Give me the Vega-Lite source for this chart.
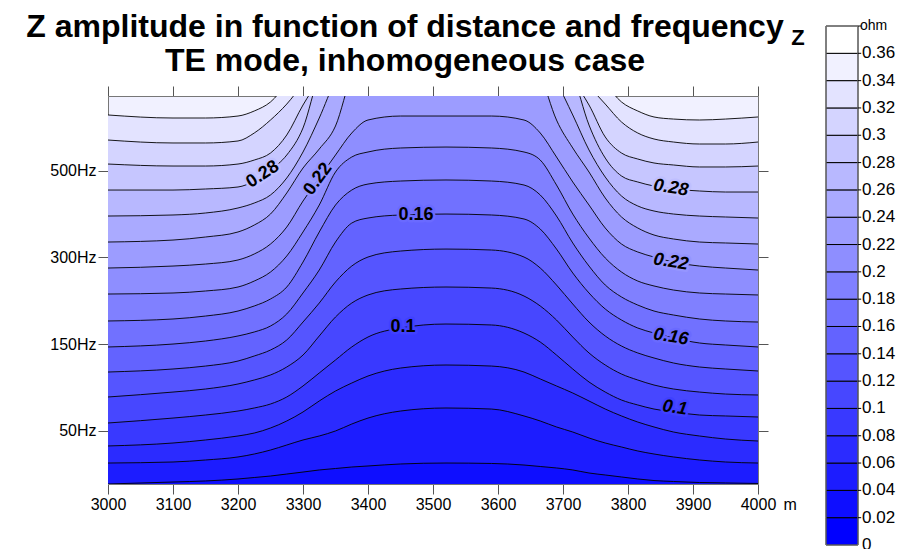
{
"$schema": "https://vega.github.io/schema/vega-lite/v6.json",
"width": 650, "height": 388,
"autosize": {"type": "none"},
"padding": {"left": 108, "top": 96, "right": 141, "bottom": 65},
"background": "#ffffff",
"title": {"text": ["Z amplitude in function of distance and frequency", "TE mode, inhomogeneous case"], "font": "Liberation Sans", "fontSize": 32, "fontWeight": "bold", "color": "#000", "anchor": "middle", "frame": "group", "dx": -28, "dy": 65, "offset": 6, "lineHeight": 34},
"datasets": {
"c": [
{"l":0.34,"x":3000,"v":4.643},{"l":0.34,"x":3100,"v":4.608},{"l":0.34,"x":3150,"v":4.608},{"l":0.34,"x":3200,"v":4.631},{"l":0.34,"x":3225,"v":4.689},{"l":0.34,"x":3250,"v":4.793},{"l":0.34,"x":3275,"v":5.0},{"l":0.34,"x":3300,"v":5.208},{"l":0.34,"x":3740,"v":5.208},{"l":0.34,"x":3765,"v":5.0},{"l":0.34,"x":3790,"v":4.793},{"l":0.34,"x":3815,"v":4.689},{"l":0.34,"x":3840,"v":4.62},{"l":0.34,"x":3870,"v":4.596},{"l":0.34,"x":3910,"v":4.585},{"l":0.34,"x":3950,"v":4.596},{"l":0.34,"x":4000,"v":4.62},
{"l":0.32,"x":3000,"v":4.354},{"l":0.32,"x":3100,"v":4.32},{"l":0.32,"x":3150,"v":4.32},{"l":0.32,"x":3200,"v":4.343},{"l":0.32,"x":3225,"v":4.435},{"l":0.32,"x":3250,"v":4.585},{"l":0.32,"x":3275,"v":4.769},{"l":0.32,"x":3300,"v":5.0},{"l":0.32,"x":3325,"v":5.208},{"l":0.32,"x":3715,"v":5.208},{"l":0.32,"x":3740,"v":4.977},{"l":0.32,"x":3765,"v":4.769},{"l":0.32,"x":3790,"v":4.562},{"l":0.32,"x":3815,"v":4.435},{"l":0.32,"x":3840,"v":4.366},{"l":0.32,"x":3870,"v":4.331},{"l":0.32,"x":3910,"v":4.308},{"l":0.32,"x":3950,"v":4.308},{"l":0.32,"x":4000,"v":4.331},
{"l":0.30,"x":3000,"v":4.077},{"l":0.30,"x":3100,"v":4.054},{"l":0.30,"x":3150,"v":4.054},{"l":0.30,"x":3200,"v":4.077},{"l":0.30,"x":3225,"v":4.123},{"l":0.30,"x":3250,"v":4.204},{"l":0.30,"x":3275,"v":4.412},{"l":0.30,"x":3300,"v":4.758},{"l":0.30,"x":3325,"v":5.046},{"l":0.30,"x":3350,"v":5.254},{"l":0.30,"x":3690,"v":5.254},{"l":0.30,"x":3715,"v":5.046},{"l":0.30,"x":3740,"v":4.758},{"l":0.30,"x":3765,"v":4.389},{"l":0.30,"x":3790,"v":4.204},{"l":0.30,"x":3815,"v":4.135},{"l":0.30,"x":3840,"v":4.089},{"l":0.30,"x":3870,"v":4.066},{"l":0.30,"x":3910,"v":4.043},{"l":0.30,"x":3950,"v":4.043},{"l":0.30,"x":4000,"v":4.054},
{"l":0.28,"x":3000,"v":3.777},{"l":0.28,"x":3100,"v":3.777},{"l":0.28,"x":3150,"v":3.789},{"l":0.28,"x":3200,"v":3.812},{"l":0.28,"x":3225,"v":3.881},{"l":0.28,"x":3250,"v":4.008},{"l":0.28,"x":3275,"v":4.181},{"l":0.28,"x":3300,"v":4.493},{"l":0.28,"x":3325,"v":5.104},{"l":0.28,"x":3350,"v":5.392},{"l":0.28,"x":3690,"v":5.392},{"l":0.28,"x":3715,"v":5.104},{"l":0.28,"x":3740,"v":4.527},{"l":0.28,"x":3765,"v":4.146},{"l":0.28,"x":3790,"v":3.939},{"l":0.28,"x":3815,"v":3.87},{"l":0.28,"x":3840,"v":3.823},{"l":0.28,"x":3870,"v":3.789},{"l":0.28,"x":3910,"v":3.766},{"l":0.28,"x":3950,"v":3.754},{"l":0.28,"x":4000,"v":3.754},
{"l":0.26,"x":3000,"v":3.477},{"l":0.26,"x":3100,"v":3.489},{"l":0.26,"x":3150,"v":3.512},{"l":0.26,"x":3200,"v":3.57},{"l":0.26,"x":3225,"v":3.627},{"l":0.26,"x":3250,"v":3.72},{"l":0.26,"x":3275,"v":3.916},{"l":0.26,"x":3300,"v":4.216},{"l":0.26,"x":3325,"v":4.608},{"l":0.26,"x":3350,"v":5.046},{"l":0.26,"x":3375,"v":5.335},{"l":0.26,"x":3665,"v":5.335},{"l":0.26,"x":3690,"v":5.023},{"l":0.26,"x":3715,"v":4.643},{"l":0.26,"x":3740,"v":4.239},{"l":0.26,"x":3765,"v":3.927},{"l":0.26,"x":3790,"v":3.708},{"l":0.26,"x":3815,"v":3.593},{"l":0.26,"x":3840,"v":3.535},{"l":0.26,"x":3870,"v":3.5},{"l":0.26,"x":3910,"v":3.477},{"l":0.26,"x":3950,"v":3.466},{"l":0.26,"x":4000,"v":3.454},
{"l":0.24,"x":3000,"v":3.177},{"l":0.24,"x":3100,"v":3.2},{"l":0.24,"x":3150,"v":3.235},{"l":0.24,"x":3200,"v":3.293},{"l":0.24,"x":3225,"v":3.373},{"l":0.24,"x":3250,"v":3.5},{"l":0.24,"x":3275,"v":3.743},{"l":0.24,"x":3300,"v":4.031},{"l":0.24,"x":3325,"v":4.25},{"l":0.24,"x":3350,"v":4.516},{"l":0.24,"x":3375,"v":5.104},{"l":0.24,"x":3400,"v":5.392},{"l":0.24,"x":3640,"v":5.392},{"l":0.24,"x":3665,"v":5.104},{"l":0.24,"x":3690,"v":4.585},{"l":0.24,"x":3715,"v":4.262},{"l":0.24,"x":3740,"v":3.985},{"l":0.24,"x":3765,"v":3.685},{"l":0.24,"x":3790,"v":3.466},{"l":0.24,"x":3815,"v":3.339},{"l":0.24,"x":3840,"v":3.258},{"l":0.24,"x":3870,"v":3.212},{"l":0.24,"x":3910,"v":3.177},{"l":0.24,"x":3950,"v":3.166},{"l":0.24,"x":4000,"v":3.154},
{"l":0.22,"x":3000,"v":2.877},{"l":0.22,"x":3100,"v":2.9},{"l":0.22,"x":3150,"v":2.923},{"l":0.22,"x":3200,"v":2.97},{"l":0.22,"x":3225,"v":3.039},{"l":0.22,"x":3250,"v":3.154},{"l":0.22,"x":3275,"v":3.35},{"l":0.22,"x":3300,"v":3.65},{"l":0.22,"x":3325,"v":3.916},{"l":0.22,"x":3350,"v":4.181},{"l":0.22,"x":3375,"v":4.435},{"l":0.22,"x":3400,"v":4.585},{"l":0.22,"x":3450,"v":4.631},{"l":0.22,"x":3520,"v":4.631},{"l":0.22,"x":3590,"v":4.631},{"l":0.22,"x":3640,"v":4.585},{"l":0.22,"x":3665,"v":4.435},{"l":0.22,"x":3690,"v":4.158},{"l":0.22,"x":3715,"v":3.87},{"l":0.22,"x":3740,"v":3.604},{"l":0.22,"x":3765,"v":3.339},{"l":0.22,"x":3790,"v":3.154},{"l":0.22,"x":3815,"v":3.062},{"l":0.22,"x":3840,"v":3.004},{"l":0.22,"x":3870,"v":2.946},{"l":0.22,"x":3910,"v":2.9},{"l":0.22,"x":3950,"v":2.877},{"l":0.22,"x":4000,"v":2.854},
{"l":0.20,"x":3000,"v":2.577},{"l":0.20,"x":3100,"v":2.589},{"l":0.20,"x":3150,"v":2.612},{"l":0.20,"x":3200,"v":2.658},{"l":0.20,"x":3225,"v":2.727},{"l":0.20,"x":3250,"v":2.831},{"l":0.20,"x":3275,"v":3.016},{"l":0.20,"x":3300,"v":3.293},{"l":0.20,"x":3325,"v":3.604},{"l":0.20,"x":3350,"v":3.985},{"l":0.20,"x":3375,"v":4.158},{"l":0.20,"x":3400,"v":4.216},{"l":0.20,"x":3450,"v":4.262},{"l":0.20,"x":3520,"v":4.273},{"l":0.20,"x":3590,"v":4.262},{"l":0.20,"x":3640,"v":4.216},{"l":0.20,"x":3665,"v":4.123},{"l":0.20,"x":3690,"v":3.835},{"l":0.20,"x":3715,"v":3.5},{"l":0.20,"x":3740,"v":3.223},{"l":0.20,"x":3765,"v":2.993},{"l":0.20,"x":3790,"v":2.831},{"l":0.20,"x":3815,"v":2.727},{"l":0.20,"x":3840,"v":2.67},{"l":0.20,"x":3870,"v":2.623},{"l":0.20,"x":3910,"v":2.589},{"l":0.20,"x":3950,"v":2.577},{"l":0.20,"x":4000,"v":2.566},
{"l":0.18,"x":3000,"v":2.266},{"l":0.18,"x":3100,"v":2.289},{"l":0.18,"x":3150,"v":2.323},{"l":0.18,"x":3200,"v":2.381},{"l":0.18,"x":3225,"v":2.439},{"l":0.18,"x":3250,"v":2.52},{"l":0.18,"x":3275,"v":2.658},{"l":0.18,"x":3300,"v":2.946},{"l":0.18,"x":3325,"v":3.293},{"l":0.18,"x":3350,"v":3.604},{"l":0.18,"x":3375,"v":3.777},{"l":0.18,"x":3400,"v":3.846},{"l":0.18,"x":3450,"v":3.881},{"l":0.18,"x":3520,"v":3.893},{"l":0.18,"x":3590,"v":3.881},{"l":0.18,"x":3640,"v":3.835},{"l":0.18,"x":3665,"v":3.72},{"l":0.18,"x":3690,"v":3.477},{"l":0.18,"x":3715,"v":3.166},{"l":0.18,"x":3740,"v":2.9},{"l":0.18,"x":3765,"v":2.681},{"l":0.18,"x":3790,"v":2.543},{"l":0.18,"x":3815,"v":2.45},{"l":0.18,"x":3840,"v":2.381},{"l":0.18,"x":3870,"v":2.335},{"l":0.18,"x":3910,"v":2.289},{"l":0.18,"x":3950,"v":2.266},{"l":0.18,"x":4000,"v":2.254},
{"l":0.16,"x":3000,"v":1.966},{"l":0.16,"x":3100,"v":2.0},{"l":0.16,"x":3150,"v":2.035},{"l":0.16,"x":3200,"v":2.093},{"l":0.16,"x":3225,"v":2.139},{"l":0.16,"x":3250,"v":2.208},{"l":0.16,"x":3275,"v":2.347},{"l":0.16,"x":3300,"v":2.589},{"l":0.16,"x":3325,"v":2.854},{"l":0.16,"x":3350,"v":3.177},{"l":0.16,"x":3375,"v":3.396},{"l":0.16,"x":3400,"v":3.454},{"l":0.16,"x":3450,"v":3.489},{"l":0.16,"x":3520,"v":3.5},{"l":0.16,"x":3590,"v":3.489},{"l":0.16,"x":3640,"v":3.443},{"l":0.16,"x":3665,"v":3.327},{"l":0.16,"x":3690,"v":3.096},{"l":0.16,"x":3715,"v":2.82},{"l":0.16,"x":3740,"v":2.589},{"l":0.16,"x":3765,"v":2.404},{"l":0.16,"x":3790,"v":2.277},{"l":0.16,"x":3815,"v":2.185},{"l":0.16,"x":3840,"v":2.127},{"l":0.16,"x":3870,"v":2.07},{"l":0.16,"x":3910,"v":2.012},{"l":0.16,"x":3950,"v":1.989},{"l":0.16,"x":4000,"v":1.966},
{"l":0.14,"x":3000,"v":1.677},{"l":0.14,"x":3100,"v":1.712},{"l":0.14,"x":3150,"v":1.746},{"l":0.14,"x":3200,"v":1.804},{"l":0.14,"x":3225,"v":1.862},{"l":0.14,"x":3250,"v":1.931},{"l":0.14,"x":3275,"v":2.047},{"l":0.14,"x":3300,"v":2.254},{"l":0.14,"x":3325,"v":2.473},{"l":0.14,"x":3350,"v":2.716},{"l":0.14,"x":3375,"v":2.9},{"l":0.14,"x":3400,"v":3.004},{"l":0.14,"x":3450,"v":3.073},{"l":0.14,"x":3520,"v":3.096},{"l":0.14,"x":3590,"v":3.085},{"l":0.14,"x":3640,"v":3.004},{"l":0.14,"x":3665,"v":2.877},{"l":0.14,"x":3690,"v":2.681},{"l":0.14,"x":3715,"v":2.462},{"l":0.14,"x":3740,"v":2.254},{"l":0.14,"x":3765,"v":2.093},{"l":0.14,"x":3790,"v":1.977},{"l":0.14,"x":3815,"v":1.897},{"l":0.14,"x":3840,"v":1.839},{"l":0.14,"x":3870,"v":1.781},{"l":0.14,"x":3910,"v":1.735},{"l":0.14,"x":3950,"v":1.712},{"l":0.14,"x":4000,"v":1.689},
{"l":0.12,"x":3000,"v":1.389},{"l":0.12,"x":3100,"v":1.446},{"l":0.12,"x":3150,"v":1.481},{"l":0.12,"x":3200,"v":1.539},{"l":0.12,"x":3225,"v":1.585},{"l":0.12,"x":3250,"v":1.643},{"l":0.12,"x":3275,"v":1.735},{"l":0.12,"x":3300,"v":1.873},{"l":0.12,"x":3325,"v":2.093},{"l":0.12,"x":3350,"v":2.312},{"l":0.12,"x":3375,"v":2.473},{"l":0.12,"x":3400,"v":2.566},{"l":0.12,"x":3450,"v":2.635},{"l":0.12,"x":3520,"v":2.658},{"l":0.12,"x":3590,"v":2.646},{"l":0.12,"x":3640,"v":2.554},{"l":0.12,"x":3665,"v":2.439},{"l":0.12,"x":3690,"v":2.277},{"l":0.12,"x":3715,"v":2.081},{"l":0.12,"x":3740,"v":1.897},{"l":0.12,"x":3765,"v":1.758},{"l":0.12,"x":3790,"v":1.654},{"l":0.12,"x":3815,"v":1.585},{"l":0.12,"x":3840,"v":1.527},{"l":0.12,"x":3870,"v":1.481},{"l":0.12,"x":3910,"v":1.446},{"l":0.12,"x":3950,"v":1.423},{"l":0.12,"x":4000,"v":1.412},
{"l":0.10,"x":3000,"v":1.089},{"l":0.10,"x":3100,"v":1.146},{"l":0.10,"x":3150,"v":1.181},{"l":0.10,"x":3200,"v":1.227},{"l":0.10,"x":3225,"v":1.262},{"l":0.10,"x":3250,"v":1.308},{"l":0.10,"x":3275,"v":1.389},{"l":0.10,"x":3300,"v":1.516},{"l":0.10,"x":3325,"v":1.666},{"l":0.10,"x":3350,"v":1.816},{"l":0.10,"x":3375,"v":1.966},{"l":0.10,"x":3400,"v":2.081},{"l":0.10,"x":3450,"v":2.185},{"l":0.10,"x":3520,"v":2.231},{"l":0.10,"x":3590,"v":2.22},{"l":0.10,"x":3640,"v":2.127},{"l":0.10,"x":3665,"v":2.023},{"l":0.10,"x":3690,"v":1.873},{"l":0.10,"x":3715,"v":1.712},{"l":0.10,"x":3740,"v":1.562},{"l":0.10,"x":3765,"v":1.446},{"l":0.10,"x":3790,"v":1.354},{"l":0.10,"x":3815,"v":1.297},{"l":0.10,"x":3840,"v":1.25},{"l":0.10,"x":3870,"v":1.216},{"l":0.10,"x":3910,"v":1.181},{"l":0.10,"x":3950,"v":1.17},{"l":0.10,"x":4000,"v":1.158},
{"l":0.08,"x":3000,"v":0.824},{"l":0.08,"x":3100,"v":0.858},{"l":0.08,"x":3150,"v":0.893},{"l":0.08,"x":3200,"v":0.939},{"l":0.08,"x":3225,"v":0.973},{"l":0.08,"x":3250,"v":1.031},{"l":0.08,"x":3275,"v":1.112},{"l":0.08,"x":3300,"v":1.216},{"l":0.08,"x":3325,"v":1.343},{"l":0.08,"x":3350,"v":1.458},{"l":0.08,"x":3375,"v":1.55},{"l":0.08,"x":3400,"v":1.631},{"l":0.08,"x":3450,"v":1.723},{"l":0.08,"x":3520,"v":1.758},{"l":0.08,"x":3590,"v":1.746},{"l":0.08,"x":3640,"v":1.677},{"l":0.08,"x":3665,"v":1.597},{"l":0.08,"x":3690,"v":1.516},{"l":0.08,"x":3715,"v":1.435},{"l":0.08,"x":3740,"v":1.343},{"l":0.08,"x":3765,"v":1.25},{"l":0.08,"x":3790,"v":1.17},{"l":0.08,"x":3815,"v":1.1},{"l":0.08,"x":3840,"v":1.043},{"l":0.08,"x":3870,"v":0.985},{"l":0.08,"x":3910,"v":0.939},{"l":0.08,"x":3950,"v":0.904},{"l":0.08,"x":4000,"v":0.881},
{"l":0.06,"x":3000,"v":0.627},{"l":0.06,"x":3100,"v":0.639},{"l":0.06,"x":3150,"v":0.662},{"l":0.06,"x":3200,"v":0.697},{"l":0.06,"x":3225,"v":0.731},{"l":0.06,"x":3250,"v":0.777},{"l":0.06,"x":3275,"v":0.835},{"l":0.06,"x":3300,"v":0.893},{"l":0.06,"x":3325,"v":0.939},{"l":0.06,"x":3350,"v":0.997},{"l":0.06,"x":3375,"v":1.077},{"l":0.06,"x":3400,"v":1.146},{"l":0.06,"x":3450,"v":1.227},{"l":0.06,"x":3520,"v":1.262},{"l":0.06,"x":3590,"v":1.25},{"l":0.06,"x":3640,"v":1.17},{"l":0.06,"x":3665,"v":1.112},{"l":0.06,"x":3690,"v":1.043},{"l":0.06,"x":3715,"v":0.985},{"l":0.06,"x":3740,"v":0.916},{"l":0.06,"x":3765,"v":0.858},{"l":0.06,"x":3790,"v":0.812},{"l":0.06,"x":3815,"v":0.766},{"l":0.06,"x":3840,"v":0.731},{"l":0.06,"x":3870,"v":0.697},{"l":0.06,"x":3910,"v":0.662},{"l":0.06,"x":3950,"v":0.639},{"l":0.06,"x":4000,"v":0.627},
{"l":0.04,"x":3000,"v":0.385},{"l":0.04,"x":3100,"v":0.408},{"l":0.04,"x":3150,"v":0.42},{"l":0.04,"x":3200,"v":0.443},{"l":0.04,"x":3225,"v":0.46},{"l":0.04,"x":3250,"v":0.477},{"l":0.04,"x":3275,"v":0.5},{"l":0.04,"x":3300,"v":0.523},{"l":0.04,"x":3325,"v":0.547},{"l":0.04,"x":3350,"v":0.564},{"l":0.04,"x":3375,"v":0.581},{"l":0.04,"x":3400,"v":0.593},{"l":0.04,"x":3450,"v":0.616},{"l":0.04,"x":3520,"v":0.627},{"l":0.04,"x":3590,"v":0.622},{"l":0.04,"x":3640,"v":0.604},{"l":0.04,"x":3665,"v":0.587},{"l":0.04,"x":3690,"v":0.57},{"l":0.04,"x":3715,"v":0.547},{"l":0.04,"x":3740,"v":0.512},{"l":0.04,"x":3765,"v":0.489},{"l":0.04,"x":3790,"v":0.466},{"l":0.04,"x":3815,"v":0.443},{"l":0.04,"x":3840,"v":0.425},{"l":0.04,"x":3870,"v":0.414},{"l":0.04,"x":3910,"v":0.402},{"l":0.04,"x":3950,"v":0.397},{"l":0.04,"x":4000,"v":0.391}
],
"lab": [
{"t":"0.28","l":0.28,"x":3238,"v":3.956},
{"t":"0.22","l":0.22,"x":3323,"v":3.904},
{"t":"0.16","l":0.16,"x":3474,"v":3.489},
{"t":"0.1","l":0.1,"x":3454,"v":2.197},
{"t":"0.28","l":0.28,"x":3866,"v":3.8},
{"t":"0.22","l":0.22,"x":3866,"v":2.946},
{"t":"0.16","l":0.16,"x":3866,"v":2.081},
{"t":"0.1","l":0.1,"x":3872,"v":1.262}
],
"leg": [
{"lo":0,"hi":0.02},{"lo":0.02,"hi":0.04},{"lo":0.04,"hi":0.06},{"lo":0.06,"hi":0.08},{"lo":0.08,"hi":0.1},{"lo":0.1,"hi":0.12},{"lo":0.12,"hi":0.14},{"lo":0.14,"hi":0.16},{"lo":0.16,"hi":0.18},{"lo":0.18,"hi":0.2},{"lo":0.2,"hi":0.22},{"lo":0.22,"hi":0.24},{"lo":0.24,"hi":0.26},{"lo":0.26,"hi":0.28},{"lo":0.28,"hi":0.3},{"lo":0.3,"hi":0.32},{"lo":0.32,"hi":0.34},{"lo":0.34,"hi":0.36},{"lo":0.36,"hi":0.38}
]
},
"layer": [
{
"layer": [
{
"data": {"name": "c"},
"mark": {"type": "area", "interpolate": "monotone", "clip": true},
"encoding": {
"x": {"field": "x", "type": "quantitative", "scale": {"domain": [3000, 4000], "nice": false, "zero": false},
 "axis": {"orient": "bottom", "values": [3000,3100,3200,3300,3400,3500,3600,3700,3800,3900,4000], "format": "d", "tickSize": 10, "labelPadding": 2, "labelFlush": false, "title": "m", "titleX": 675, "titleY": 12, "titleAlign": "left", "titleBaseline": "top", "titleFontSize": 16, "titleFontWeight": "normal", "titleColor": "#000"}},
"y": {"field": "v", "type": "quantitative", "stack": null, "scale": {"domain": [0.385, 4.862], "nice": false, "zero": false},
 "axis": {"orient": "left", "values": [1,2,3,4], "labelExpr": "datum.value == 1 ? '50Hz' : datum.value == 2 ? '150Hz' : datum.value == 3 ? '300Hz' : '500Hz'", "tickSize": 10, "labelPadding": 2, "title": null}},
"color": {"field": "l", "type": "quantitative", "scale": {"domain": [0.02, 0.38], "range": ["#0000ff", "#ffffff"], "interpolate": "rgb"}, "legend": null},
"detail": {"field": "l"}
}
},
{
"data": {"name": "c"},
"mark": {"type": "line", "interpolate": "monotone", "clip": true, "color": "#000", "strokeWidth": 0.9},
"encoding": {
"x": {"field": "x", "type": "quantitative", "scale": {"domain": [3000, 4000], "nice": false, "zero": false},
 "axis": {"orient": "top", "values": [3000,3100,3200,3300,3400,3500,3600,3700,3800,3900,4000], "labels": false, "tickSize": 10, "title": null}},
"y": {"field": "v", "type": "quantitative", "scale": {"domain": [0.385, 4.862], "nice": false, "zero": false},
 "axis": {"orient": "right", "values": [1,2,3,4], "labels": false, "tickSize": 10, "title": null}},
"detail": {"field": "l"}
}
},
{
"data": {"name": "lab"},
"transform": [{"filter": "datum.t == '0.28' && datum.x < 3500"}],
"encoding": {
"x": {"field": "x", "type": "quantitative", "scale": {"domain": [3000, 4000], "nice": false, "zero": false}, "axis": null},
"y": {"field": "v", "type": "quantitative", "scale": {"domain": [0.385, 4.862], "nice": false, "zero": false}, "axis": null},
"text": {"field": "t"}
},
"layer": [
{"mark": {"type": "text", "angle": 327, "font": "Liberation Sans", "fontSize": 18, "fontWeight": "bold", "fill": "transparent", "strokeWidth": 5, "strokeJoin": "round"},
 "encoding": {"stroke": {"field": "l", "type": "quantitative", "scale": {"domain": [0.01, 0.37], "range": ["#0000ff", "#ffffff"], "interpolate": "rgb"}, "legend": null}}},
{"mark": {"type": "text", "angle": 327, "font": "Liberation Sans", "fontSize": 18, "fontWeight": "bold", "color": "#000"}}
]
},
{
"data": {"name": "lab"},
"transform": [{"filter": "datum.t == '0.22' && datum.x < 3500"}],
"encoding": {
"x": {"field": "x", "type": "quantitative", "scale": {"domain": [3000, 4000], "nice": false, "zero": false}, "axis": null},
"y": {"field": "v", "type": "quantitative", "scale": {"domain": [0.385, 4.862], "nice": false, "zero": false}, "axis": null},
"text": {"field": "t"}
},
"layer": [
{"mark": {"type": "text", "angle": 306, "font": "Liberation Sans", "fontSize": 18, "fontWeight": "bold", "fill": "transparent", "strokeWidth": 5, "strokeJoin": "round"},
 "encoding": {"stroke": {"field": "l", "type": "quantitative", "scale": {"domain": [0.01, 0.37], "range": ["#0000ff", "#ffffff"], "interpolate": "rgb"}, "legend": null}}},
{"mark": {"type": "text", "angle": 306, "font": "Liberation Sans", "fontSize": 18, "fontWeight": "bold", "color": "#000"}}
]
},
{
"data": {"name": "lab"},
"transform": [{"filter": "datum.x > 3400 && datum.x < 3600"}],
"encoding": {
"x": {"field": "x", "type": "quantitative", "scale": {"domain": [3000, 4000], "nice": false, "zero": false}, "axis": null},
"y": {"field": "v", "type": "quantitative", "scale": {"domain": [0.385, 4.862], "nice": false, "zero": false}, "axis": null},
"text": {"field": "t"}
},
"layer": [
{"mark": {"type": "text", "font": "Liberation Sans", "fontSize": 18, "fontWeight": "bold", "fill": "transparent", "strokeWidth": 5, "strokeJoin": "round"},
 "encoding": {"stroke": {"field": "l", "type": "quantitative", "scale": {"domain": [0.01, 0.37], "range": ["#0000ff", "#ffffff"], "interpolate": "rgb"}, "legend": null}}},
{"mark": {"type": "text", "font": "Liberation Sans", "fontSize": 18, "fontWeight": "bold", "color": "#000"}}
]
},
{
"data": {"name": "lab"},
"transform": [{"filter": "datum.x > 3800"}],
"encoding": {
"x": {"field": "x", "type": "quantitative", "scale": {"domain": [3000, 4000], "nice": false, "zero": false}, "axis": null},
"y": {"field": "v", "type": "quantitative", "scale": {"domain": [0.385, 4.862], "nice": false, "zero": false}, "axis": null},
"text": {"field": "t"}
},
"layer": [
{"mark": {"type": "text", "angle": 9, "font": "Liberation Sans", "fontSize": 18, "fontWeight": "bold", "fontStyle": "italic", "fill": "transparent", "strokeWidth": 5, "strokeJoin": "round"},
 "encoding": {"stroke": {"field": "l", "type": "quantitative", "scale": {"domain": [0.01, 0.37], "range": ["#0000ff", "#ffffff"], "interpolate": "rgb"}, "legend": null}}},
{"mark": {"type": "text", "angle": 9, "font": "Liberation Sans", "fontSize": 18, "fontWeight": "bold", "fontStyle": "italic", "color": "#000"}}
]
}
],
"resolve": {"axis": {"x": "independent", "y": "independent"}}
},
{
"layer": [
{
"data": {"name": "leg"},
"mark": {"type": "rect", "stroke": "#000", "strokeWidth": 1},
"encoding": {
"x": {"datum": 0, "type": "quantitative", "scale": {"domain": [0, 1], "range": [718, 750]}, "axis": null},
"x2": {"datum": 1},
"y": {"field": "lo", "type": "quantitative", "scale": {"domain": [0, 0.38], "range": [449, -70], "nice": false, "zero": false}, "axis": null},
"y2": {"field": "hi"},
"color": {"field": "hi", "type": "quantitative", "scale": {"domain": [0.02, 0.38], "range": ["#0000ff", "#ffffff"], "interpolate": "rgb"}, "legend": null}
}
},
{
"data": {"values": [{"lo": 0, "hi": 0.38}]},
"mark": {"type": "rect", "filled": false, "stroke": "#808080", "strokeWidth": 1},
"encoding": {
"x": {"datum": 0, "type": "quantitative", "scale": {"domain": [0, 1], "range": [718, 750]}, "axis": null},
"x2": {"datum": 1},
"y": {"field": "lo", "type": "quantitative", "scale": {"domain": [0, 0.38], "range": [449, -70], "nice": false, "zero": false}, "axis": null},
"y2": {"field": "hi"}
}
},
{
"data": {"name": "leg"},
"mark": {"type": "rule", "color": "#000", "strokeWidth": 1},
"encoding": {
"x": {"datum": 1, "type": "quantitative", "scale": {"domain": [0, 1], "range": [718, 750]}, "axis": null},
"x2": {"datum": 1.1},
"y": {"field": "hi", "type": "quantitative", "scale": {"domain": [0, 0.38], "range": [449, -70], "nice": false, "zero": false}, "axis": null}
}
},
{
"data": {"name": "leg"},
"mark": {"type": "text", "align": "left", "baseline": "middle", "dx": 4, "font": "Liberation Sans", "fontSize": 17, "color": "#000"},
"encoding": {
"x": {"datum": 1, "type": "quantitative", "scale": {"domain": [0, 1], "range": [718, 750]}, "axis": null},
"y": {"field": "lo", "type": "quantitative", "scale": {"domain": [0, 0.38], "range": [449, -70], "nice": false, "zero": false}, "axis": null},
"text": {"field": "lo", "type": "quantitative", "format": "~g"}
}
},
{
"data": {"values": [{"u": "ohm", "p": 0.38}]},
"mark": {"type": "text", "align": "left", "baseline": "middle", "dx": 2, "font": "Liberation Sans", "fontSize": 14, "color": "#000"},
"encoding": {
"x": {"datum": 1, "type": "quantitative", "scale": {"domain": [0, 1], "range": [718, 750]}, "axis": null},
"y": {"field": "p", "type": "quantitative", "scale": {"domain": [0, 0.38], "range": [449, -70], "nice": false, "zero": false}, "axis": null},
"text": {"field": "u"}
}
},
{
"data": {"values": [{"u": "Z", "p": 0.3712}]},
"mark": {"type": "text", "align": "center", "baseline": "middle", "font": "Liberation Sans", "fontSize": 22, "fontWeight": "bold", "color": "#000"},
"encoding": {
"x": {"datum": -0.875, "type": "quantitative", "scale": {"domain": [0, 1], "range": [718, 750]}, "axis": null},
"y": {"field": "p", "type": "quantitative", "scale": {"domain": [0, 0.38], "range": [449, -70], "nice": false, "zero": false}, "axis": null},
"text": {"field": "u"}
}
}
]
}
],
"resolve": {"scale": {"x": "independent", "y": "independent", "color": "independent"}},
"config": {
"view": {"fill": "#f1f1ff", "stroke": null},
"font": "Liberation Sans",
"axis": {"grid": false, "labelFont": "Liberation Sans", "labelFontSize": 16, "labelColor": "#000", "tickColor": "#555", "domainColor": "#777", "tickSize": 10, "titleFont": "Liberation Sans"}
}
}
